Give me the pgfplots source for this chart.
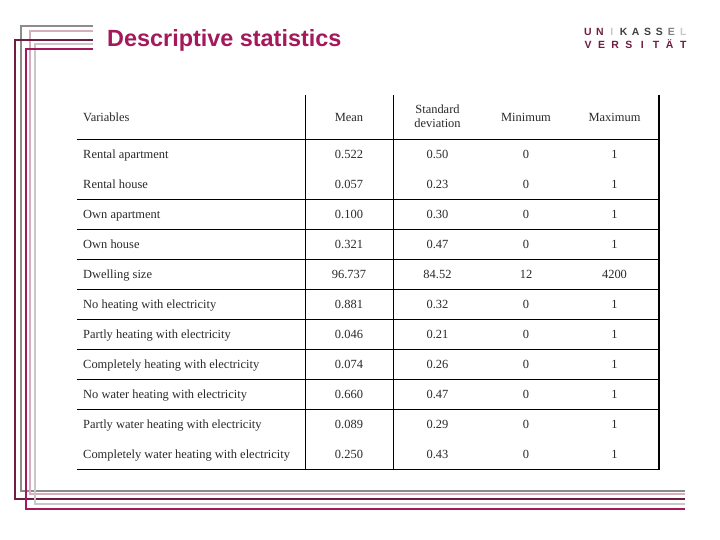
\documentclass[border=0pt]{standalone}
\usepackage{pgfplots}
\pgfplotsset{compat=1.18}
\usepackage{fontspec}
\setmainfont{Liberation Serif}
\newfontfamily\sansbold{Liberation Sans}
\definecolor{ukgray}{HTML}{8C8C8C}
\definecolor{ukpink}{HTML}{D6AEBF}
\definecolor{ukmaroon}{HTML}{6E1E42}
\definecolor{uklgray}{HTML}{C8C8C8}
\definecolor{ukmag}{HTML}{A3195B}
\definecolor{txt}{HTML}{2A2A2A}
\begin{document}
\begin{tikzpicture}
\begin{axis}[
  width=720bp, height=540bp, scale only axis,
  xmin=0, xmax=720, ymin=0, ymax=540, y dir=reverse,
  hide axis, clip=false,
]
% background
\addplot[fill=white, draw=none] coordinates {(0,0) (720,0) (720,540) (0,540)} -- cycle;
% decorative frame lines
\addplot[ukgray, line width=2bp] coordinates {(93,26) (21,26) (21,491) (685,491)};
\addplot[ukpink, line width=2bp] coordinates {(93,31.5) (30,31.5) (30,494) (685,494)};
\addplot[ukmaroon, line width=2bp] coordinates {(93,40) (15,40) (15,499) (685,499)};
\addplot[uklgray, line width=2bp] coordinates {(93,44.5) (35,44.5) (35,503.5) (685,503.5)};
\addplot[ukmag, line width=2bp] coordinates {(93,49.5) (26,49.5) (26,508.5) (685,508.5)};
% title
\node[anchor=base west, inner sep=0pt, text=ukmag, font=\sansbold\bfseries\fontsize{23.5}{26}\selectfont] at (axis cs:107,46.5) {Descriptive statistics};
% logo
\tikzset{logo/.style={inner sep=0pt, font=\sansbold\bfseries\fontsize{10.5}{11}\selectfont}}
\node[logo, text=ukmaroon] at (axis cs:588,32) {U};
\node[logo, text=ukmaroon] at (axis cs:599.9,32) {N};
\node[logo, text=uklgray] at (axis cs:611.8,32) {I};
\node[logo, text=black!75] at (axis cs:623.7,32) {K};
\node[logo, text=black!75] at (axis cs:635.6,32) {A};
\node[logo, text=black!75] at (axis cs:647.5,32) {S};
\node[logo, text=black!75] at (axis cs:659.4,32) {S};
\node[logo, text=black!50] at (axis cs:671.3,32) {E};
\node[logo, text=uklgray] at (axis cs:683.2,32) {L};
\node[logo, text=ukmaroon] at (axis cs:588,44.5) {V};
\node[logo, text=ukmaroon] at (axis cs:601.6,44.5) {E};
\node[logo, text=ukmaroon] at (axis cs:615.2,44.5) {R};
\node[logo, text=ukmaroon] at (axis cs:628.8,44.5) {S};
\node[logo, text=ukmaroon] at (axis cs:642.4,44.5) {I};
\node[logo, text=ukmaroon] at (axis cs:656,44.5) {T};
\node[logo, text=ukmaroon] at (axis cs:669.6,44.5) {\"A};
\node[logo, text=ukmaroon] at (axis cs:683.2,44.5) {T};
% table rules
\addplot[black, line width=1.2bp] coordinates {(305.5,95) (305.5,469.5)};
\addplot[black, line width=1.2bp] coordinates {(393.5,95) (393.5,469.5)};
\addplot[black, line width=1.2bp] coordinates {(659,95) (659,469.5)};
\addplot[black, line width=1.2bp] coordinates {(77,139.5) (659,139.5)};
\addplot[black, line width=1.2bp] coordinates {(77,199.5) (659,199.5)};
\addplot[black, line width=1.2bp] coordinates {(77,229.5) (659,229.5)};
\addplot[black, line width=1.2bp] coordinates {(77,259.5) (659,259.5)};
\addplot[black, line width=1.2bp] coordinates {(77,289.5) (659,289.5)};
\addplot[black, line width=1.2bp] coordinates {(77,319.5) (659,319.5)};
\addplot[black, line width=1.2bp] coordinates {(77,349.5) (659,349.5)};
\addplot[black, line width=1.2bp] coordinates {(77,379.5) (659,379.5)};
\addplot[black, line width=1.2bp] coordinates {(77,409.5) (659,409.5)};
\addplot[black, line width=1.2bp] coordinates {(77,469.5) (659,469.5)};
% header
\tikzset{cell/.style={inner sep=0pt, text=txt, font=\fontsize{12.5}{14}\selectfont}}
\node[cell, anchor=mid west] at (axis cs:83,119) {Variables};
\node[cell, anchor=mid] at (axis cs:349,119) {Mean};
\node[cell, anchor=mid] at (axis cs:437.5,111.5) {Standard};
\node[cell, anchor=mid] at (axis cs:437.5,125.5) {deviation};
\node[cell, anchor=mid] at (axis cs:526,119) {Minimum};
\node[cell, anchor=mid] at (axis cs:614.5,119) {Maximum};
% rows
\foreach \y/\name/\mean/\sd/\mn/\mx in {
  156/Rental apartment/0.522/0.50/0/1,
  186/Rental house/0.057/0.23/0/1,
  216/Own apartment/0.100/0.30/0/1,
  246/Own house/0.321/0.47/0/1,
  276/Dwelling size/96.737/84.52/12/4200,
  306/No heating with electricity/0.881/0.32/0/1,
  336/Partly heating with electricity/0.046/0.21/0/1,
  366/Completely heating with electricity/0.074/0.26/0/1,
  396/No water heating with electricity/0.660/0.47/0/1,
  426/Partly water heating with electricity/0.089/0.29/0/1,
  456/Completely water heating with electricity/0.250/0.43/0/1} {
  \edef\temp{\noexpand\node[cell, anchor=mid west] at (axis cs:83,\y) {\name};
    \noexpand\node[cell, anchor=mid] at (axis cs:349,\y) {\mean};
    \noexpand\node[cell, anchor=mid] at (axis cs:437.5,\y) {\sd};
    \noexpand\node[cell, anchor=mid] at (axis cs:526,\y) {\mn};
    \noexpand\node[cell, anchor=mid] at (axis cs:614.5,\y) {\mx};}
  \temp
}
\end{axis}
\end{tikzpicture}
\end{document}
